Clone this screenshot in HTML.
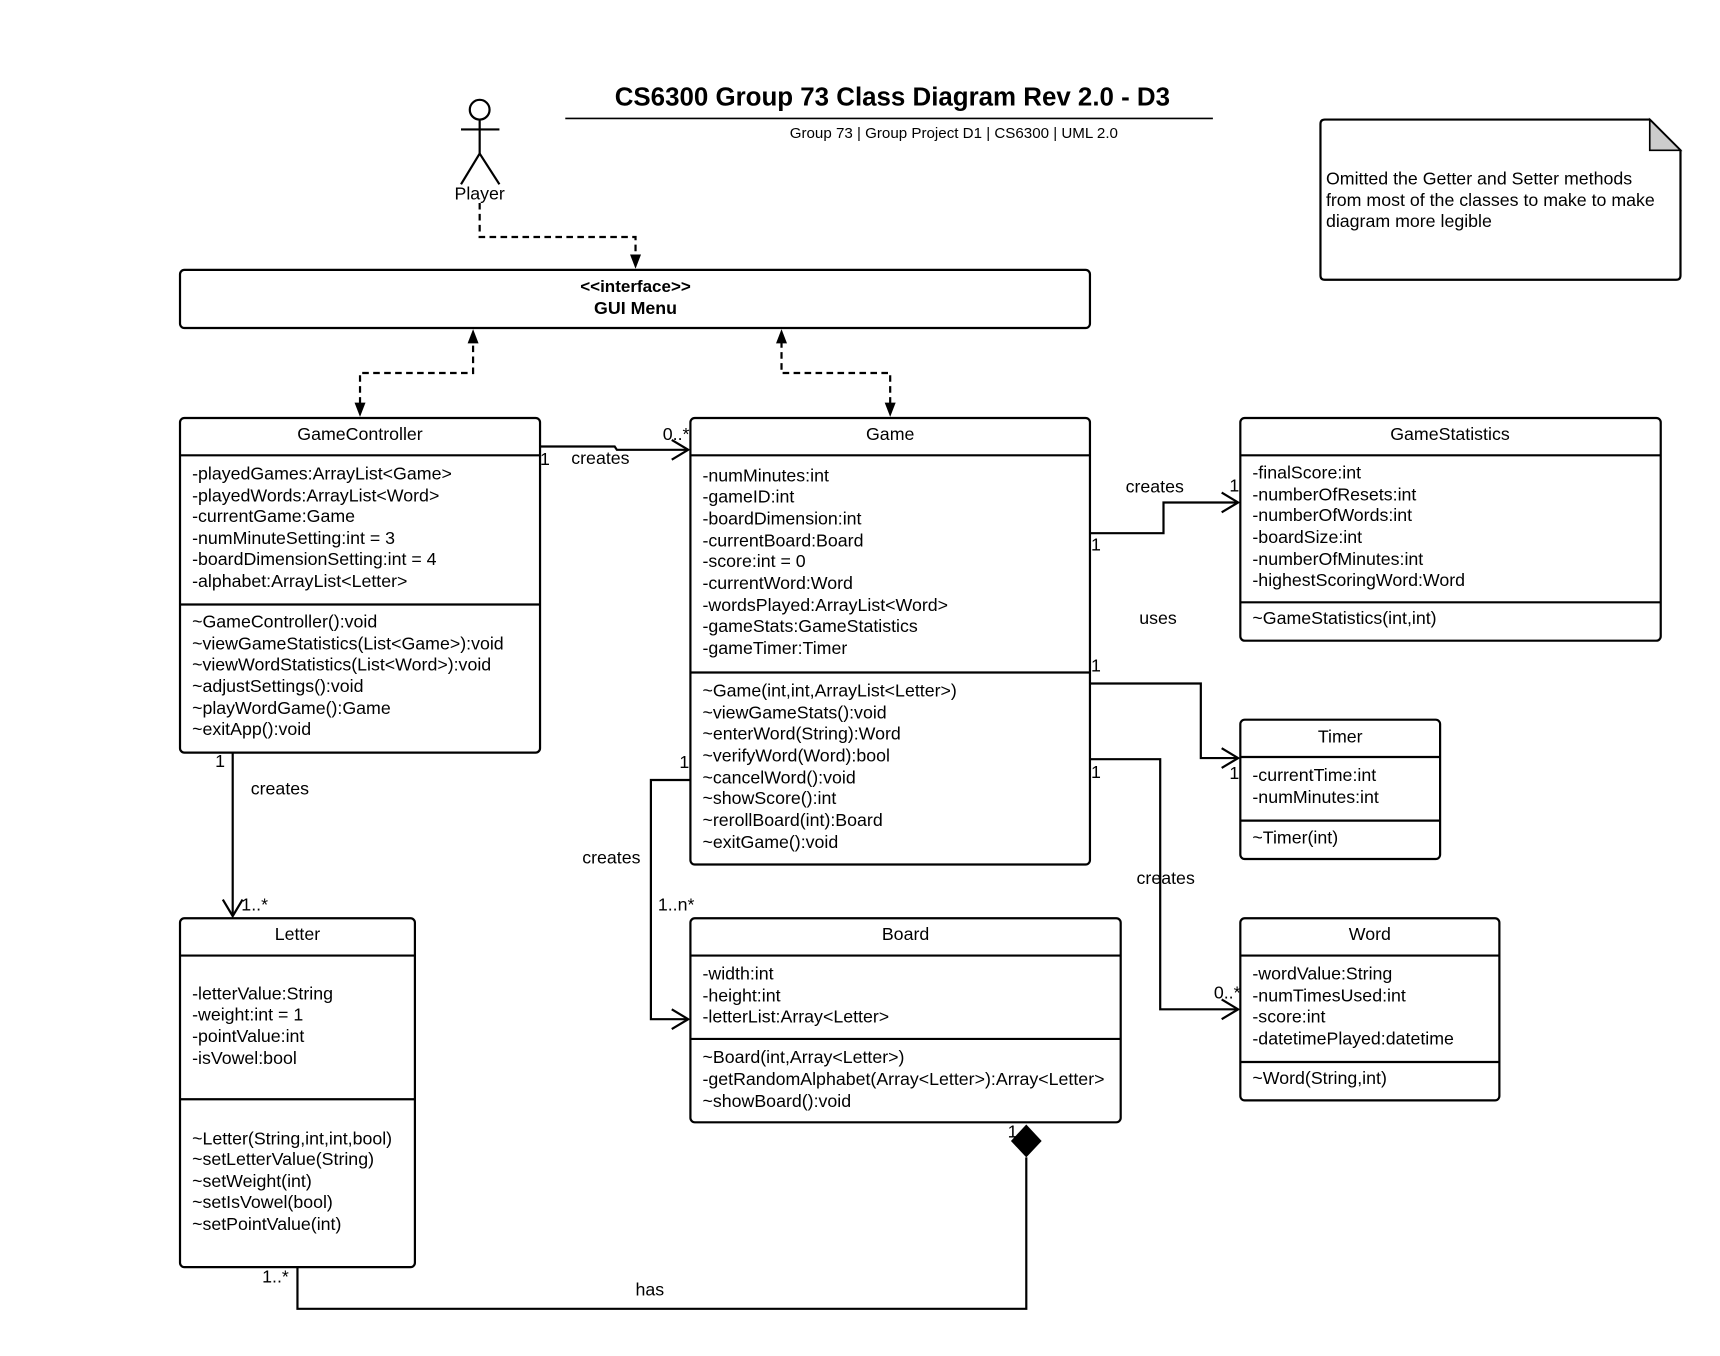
<!DOCTYPE html>
<html><head><meta charset="utf-8"><style>
html,body{margin:0;padding:0;background:#fff;}
svg{display:block;}
text{font-family:"Liberation Sans",Arial,sans-serif;fill:#000;}
.t{font-size:16.2px;}
.c{text-anchor:middle;}
</style></head><body>
<svg width="1720" height="1356" viewBox="0 0 1567 1236" preserveAspectRatio="none" xmlns="http://www.w3.org/2000/svg">
<rect width="1567" height="1236" fill="#fff"/>
<g stroke="#000" stroke-width="2" fill="none">
<line x1="515" y1="108" x2="1105" y2="108" stroke-width="1.5"/>
<circle cx="437" cy="100" r="9"/>
<line x1="437" y1="109" x2="437" y2="140"/>
<line x1="420" y1="118" x2="455" y2="118"/>
<line x1="437" y1="140" x2="420" y2="168"/>
<line x1="437" y1="140" x2="455" y2="168"/>
<path d="M1203,113 Q1203,109 1207,109 L1503,109 L1531,137 L1531,251 Q1531,255 1527,255 L1207,255 Q1203,255 1203,251 Z"/>
<rect x="164" y="246" width="829" height="53" rx="4"/>
<rect x="164" y="381" width="328" height="305" rx="4"/>
<line x1="164" y1="415" x2="492" y2="415"/><line x1="164" y1="551" x2="492" y2="551"/>
<rect x="629" y="381" width="364" height="407" rx="4"/>
<line x1="629" y1="415" x2="993" y2="415"/><line x1="629" y1="613" x2="993" y2="613"/>
<rect x="1130" y="381" width="383" height="203" rx="4"/>
<line x1="1130" y1="415" x2="1513" y2="415"/><line x1="1130" y1="549" x2="1513" y2="549"/>
<rect x="1130" y="656" width="182" height="127" rx="4"/>
<line x1="1130" y1="690" x2="1312" y2="690"/><line x1="1130" y1="748" x2="1312" y2="748"/>
<rect x="1130" y="837" width="236" height="166" rx="4"/>
<line x1="1130" y1="871" x2="1366" y2="871"/><line x1="1130" y1="968" x2="1366" y2="968"/>
<rect x="629" y="837" width="392" height="186" rx="4"/>
<line x1="629" y1="871" x2="1021" y2="871"/><line x1="629" y1="947" x2="1021" y2="947"/>
<rect x="164" y="837" width="214" height="318" rx="4"/>
<line x1="164" y1="871" x2="378" y2="871"/><line x1="164" y1="1002" x2="378" y2="1002"/>
<g stroke-dasharray="6,4">
<polyline points="437,185 437,216 579,216 579,234"/>
<polyline points="328,368 328,340 431,340 431,312"/>
<polyline points="811,368 811,340 712,340 712,312"/>
</g>
<polyline points="492,407 560,407 562,410 627,410"/>
<polyline points="612,401 627,410 612,419"/>
<polyline points="993,486 1060,486 1060,458 1128,458"/>
<polyline points="1113,449 1128,458 1113,467"/>
<polyline points="993,623 1094,623 1094,691 1128,691"/>
<polyline points="1113,682 1128,691 1113,700"/>
<polyline points="993,692 1057,692 1057,920 1128,920"/>
<polyline points="1113,911 1128,920 1113,929"/>
<polyline points="629,711 593,711 593,929 627,929"/>
<polyline points="612,920 627,929 612,938"/>
<line x1="212" y1="686" x2="212" y2="835"/>
<polyline points="203,820 212,835 221,820"/>
<polyline points="935,1055 935,1193 271,1193 271,1155"/>
</g>
<g fill="#000">
<polygon points="579,245 574,232 584,232"/>
<polygon points="431,300 426,313 436,313"/>
<polygon points="328,380 323,367 333,367"/>
<polygon points="712,300 707,313 717,313"/>
<polygon points="811,380 806,367 816,367"/>
<polygon points="935,1025 949,1040 935,1055 921,1040"/>
<polygon points="1503,109 1531,137 1503,137" fill="#ccc" stroke="#000" stroke-width="1.5"/>
</g>
<text x="813" y="96" class="c" style="font-size:23.6px;font-weight:bold">CS6300 Group 73 Class Diagram Rev 2.0 - D3</text>
<text x="869" y="126" class="c" style="font-size:13.8px">Group 73 | Group Project D1 | CS6300 | UML 2.0</text>
<text x="437" y="182" class="c t">Player</text>
<text x="1208" y="168" class="t">Omitted the Getter and Setter methods</text>
<text x="1208" y="188" class="t">from most of the classes to make to make</text>
<text x="1208" y="207" class="t">diagram more legible</text>
<text x="579" y="266" class="c" style="font-size:15.5px;font-weight:bold">&lt;&lt;interface&gt;&gt;</text>
<text x="579" y="286" class="c" style="font-size:16.2px;font-weight:bold">GUI Menu</text>

<text x="328" y="401" class="c t">GameController</text>
<text x="175" y="437" class="t">-playedGames:ArrayList&lt;Game&gt;</text>
<text x="175" y="457" class="t">-playedWords:ArrayList&lt;Word&gt;</text>
<text x="175" y="476" class="t">-currentGame:Game</text>
<text x="175" y="496" class="t">-numMinuteSetting:int = 3</text>
<text x="175" y="515" class="t">-boardDimensionSetting:int = 4</text>
<text x="175" y="535" class="t">-alphabet:ArrayList&lt;Letter&gt;</text>
<text x="175" y="572" class="t">~GameController():void</text>
<text x="175" y="592" class="t">~viewGameStatistics(List&lt;Game&gt;):void</text>
<text x="175" y="611" class="t">~viewWordStatistics(List&lt;Word&gt;):void</text>
<text x="175" y="631" class="t">~adjustSettings():void</text>
<text x="175" y="651" class="t">~playWordGame():Game</text>
<text x="175" y="670" class="t">~exitApp():void</text>

<text x="811" y="401" class="c t">Game</text>
<text x="640" y="439" class="t">-numMinutes:int</text>
<text x="640" y="458" class="t">-gameID:int</text>
<text x="640" y="478" class="t">-boardDimension:int</text>
<text x="640" y="498" class="t">-currentBoard:Board</text>
<text x="640" y="517" class="t">-score:int = 0</text>
<text x="640" y="537" class="t">-currentWord:Word</text>
<text x="640" y="557" class="t">-wordsPlayed:ArrayList&lt;Word&gt;</text>
<text x="640" y="576" class="t">-gameStats:GameStatistics</text>
<text x="640" y="596" class="t">-gameTimer:Timer</text>
<text x="640" y="635" class="t">~Game(int,int,ArrayList&lt;Letter&gt;)</text>
<text x="640" y="655" class="t">~viewGameStats():void</text>
<text x="640" y="674" class="t">~enterWord(String):Word</text>
<text x="640" y="694" class="t">~verifyWord(Word):bool</text>
<text x="640" y="714" class="t">~cancelWord():void</text>
<text x="640" y="733" class="t">~showScore():int</text>
<text x="640" y="753" class="t">~rerollBoard(int):Board</text>
<text x="640" y="773" class="t">~exitGame():void</text>

<text x="1321" y="401" class="c t">GameStatistics</text>
<text x="1141" y="436" class="t">-finalScore:int</text>
<text x="1141" y="456" class="t">-numberOfResets:int</text>
<text x="1141" y="475" class="t">-numberOfWords:int</text>
<text x="1141" y="495" class="t">-boardSize:int</text>
<text x="1141" y="515" class="t">-numberOfMinutes:int</text>
<text x="1141" y="534" class="t">-highestScoringWord:Word</text>
<text x="1141" y="569" class="t">~GameStatistics(int,int)</text>

<text x="1221" y="677" class="c t">Timer</text>
<text x="1141" y="712" class="t">-currentTime:int</text>
<text x="1141" y="732" class="t">-numMinutes:int</text>
<text x="1141" y="769" class="t">~Timer(int)</text>

<text x="1248" y="857" class="c t">Word</text>
<text x="1141" y="893" class="t">-wordValue:String</text>
<text x="1141" y="913" class="t">-numTimesUsed:int</text>
<text x="1141" y="932" class="t">-score:int</text>
<text x="1141" y="952" class="t">-datetimePlayed:datetime</text>
<text x="1141" y="988" class="t">~Word(String,int)</text>

<text x="825" y="857" class="c t">Board</text>
<text x="640" y="893" class="t">-width:int</text>
<text x="640" y="913" class="t">-height:int</text>
<text x="640" y="932" class="t">-letterList:Array&lt;Letter&gt;</text>
<text x="640" y="969" class="t">~Board(int,Array&lt;Letter&gt;)</text>
<text x="640" y="989" class="t">-getRandomAlphabet(Array&lt;Letter&gt;):Array&lt;Letter&gt;</text>
<text x="640" y="1009" class="t">~showBoard():void</text>

<text x="271" y="857" class="c t">Letter</text>
<text x="175" y="911" class="t">-letterValue:String</text>
<text x="175" y="930" class="t">-weight:int = 1</text>
<text x="175" y="950" class="t">-pointValue:int</text>
<text x="175" y="970" class="t">-isVowel:bool</text>
<text x="175" y="1043" class="t">~Letter(String,int,int,bool)</text>
<text x="175" y="1062" class="t">~setLetterValue(String)</text>
<text x="175" y="1082" class="t">~setWeight(int)</text>
<text x="175" y="1101" class="t">~setIsVowel(bool)</text>
<text x="175" y="1121" class="t">~setPointValue(int)</text>

<text x="492" y="424" class="t">1</text>
<text x="547" y="423" class="c t">creates</text>
<text x="616" y="401" class="c t">0..*</text>
<text x="1052" y="449" class="c t">creates</text>
<text x="994" y="502" class="t">1</text>
<text x="1120" y="448" class="t">1</text>
<text x="1055" y="569" class="c t">uses</text>
<text x="994" y="612" class="t">1</text>
<text x="1120" y="710" class="t">1</text>
<text x="994" y="709" class="t">1</text>
<text x="1062" y="806" class="c t">creates</text>
<text x="1118" y="910" class="c t">0..*</text>
<text x="619" y="700" class="t">1</text>
<text x="557" y="787" class="c t">creates</text>
<text x="616" y="830" class="c t">1..n*</text>
<text x="196" y="699" class="t">1</text>
<text x="255" y="724" class="c t">creates</text>
<text x="232" y="830" class="c t">1..*</text>
<text x="918" y="1037" class="t">1</text>
<text x="251" y="1169" class="c t">1..*</text>
<text x="592" y="1181" class="c t">has</text>
</svg>
</body></html>
